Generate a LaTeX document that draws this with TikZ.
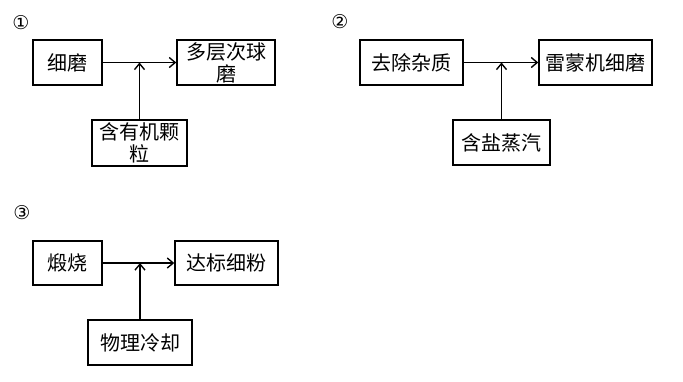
\documentclass[tikz,border=0pt]{standalone}
\usepackage{fontspec}
\newfontfamily\cjk{Noto Sans CJK SC}
\newfontfamily\symb{DejaVu Sans}
\usepackage{tikz}
\usetikzlibrary{arrows.meta,positioning,calc}

\begin{document}
\begin{tikzpicture}[x=1pt, y=-1pt,
    procbox/.style={draw, line width=1.4pt, align=center, inner sep=1pt,
      font=\cjk\fontsize{20}{22}\selectfont},
    flow/.style={line width=1.5pt, -{Straight Barb[length=6pt,width=10pt,line width=1.4pt]}},
    tag/.style={font=\symb\fontsize{19}{19}\selectfont}]
  \useasboundingbox (0,0) rectangle (683,381);

  % Process 1
  \node[tag] (n1) at (21,23) {①};
  \node[procbox, minimum width=69pt, minimum height=45pt] (fine) at (67.5,62.5) {细磨};
  \node[procbox, minimum width=98pt, minimum height=45pt] (ball) at (226,62.5) {多层次球\\磨};
  \node[procbox, minimum width=95pt, minimum height=46pt] (organic) at (139.5,143) {含有机颗\\粒};
  \draw[flow] (fine) -- (ball);
  \draw[flow] (organic) -- (organic |- fine.east);

  % Process 2
  \node[tag] (n2) at (340,22) {②};
  \node[procbox, minimum width=103pt, minimum height=45pt] (purify) at (411.5,62.5) {去除杂质};
  \node[procbox, minimum width=113pt, minimum height=45pt] (raymond) at (595.5,62.5) {雷蒙机细磨};
  \node[procbox, minimum width=97pt, minimum height=45pt] (steam) at (501.5,142.5) {含盐蒸汽};
  \draw[flow] (purify) -- (raymond);
  \draw[flow] (steam) -- (steam |- purify.east);

  % Process 3
  \node[tag] (n3) at (22,213) {③};
  \node[procbox, minimum width=69pt, minimum height=44pt] (calcine) at (67.5,263) {煅烧};
  \node[procbox, minimum width=103pt, minimum height=44pt] (powder) at (226.5,263) {达标细粉};
  \node[procbox, minimum width=104pt, minimum height=45pt] (cool) at (140,342.5) {物理冷却};
  \draw[flow] (calcine) -- (powder);
  \draw[flow] (cool) -- (cool |- calcine.east);
\end{tikzpicture}
\end{document}
